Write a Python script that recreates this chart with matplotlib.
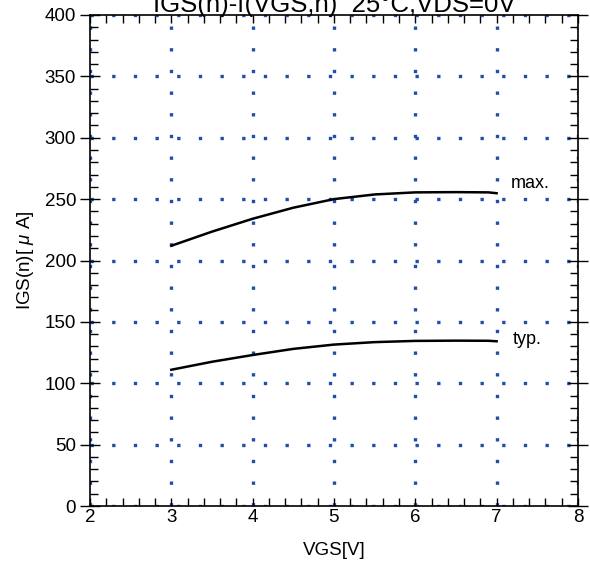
import matplotlib
matplotlib.use("Agg")
import matplotlib.pyplot as plt
from matplotlib.ticker import MultipleLocator

plt.rcParams['font.family'] = ['Liberation Sans', 'DejaVu Sans']
plt.rcParams['mathtext.fontset'] = 'custom'
plt.rcParams['mathtext.rm'] = 'Liberation Sans'
plt.rcParams['mathtext.it'] = 'Liberation Sans:italic'

vgs = [3.0, 3.5, 4.0, 4.5, 5.0, 5.5, 6.0, 6.5, 6.9, 7.0]
igs_max = [212, 223.5, 234, 243, 250, 253.8, 255.5, 255.7, 255.5, 254.8]
igs_typ = [111, 117.5, 123, 128, 131.5, 133.5, 134.5, 134.7, 134.6, 134.2]

title = "IGS(n)-f(VGS,n)  25°C,VDS=0V"
xlabel = "VGS[V]"
ylabel = r"IGS(n)[ $\mu$ A]"
xticks = [2, 3, 4, 5, 6, 7, 8]
yticks = [0, 50, 100, 150, 200, 250, 300, 350, 400]

fig = plt.figure(figsize=(5.9, 5.66), dpi=100)
ax = fig.add_axes([0.1525, 0.106, 0.827, 0.8675])

ax.plot(vgs, igs_max, color='black', lw=1.8)
ax.plot(vgs, igs_typ, color='black', lw=1.8)
ax.text(7.18, 263, "max.", fontsize=13, ha='left', va='center')
ax.text(7.2, 136, "typ.", fontsize=13, ha='left', va='center')

ax.set_xlim(2, 8)
ax.set_ylim(0, 400)
ax.set_xticks(xticks)
ax.set_yticks(yticks)
ax.xaxis.set_minor_locator(MultipleLocator(0.2))
ax.yaxis.set_minor_locator(MultipleLocator(10))
ax.tick_params(which='both', direction='in', top=True, right=True, labelsize=13.5, width=1)
ax.tick_params(which='major', axis='x', length=6, pad=2)
ax.tick_params(which='major', axis='y', direction='inout', length=14, pad=3)
ax.tick_params(which='minor', length=6)
ax.grid(True, which='major', color='#1f4fa8', linestyle=(0, (1, 5.5)), linewidth=2.4)
for s in ax.spines.values():
    s.set_linewidth(1.2)

ax.set_xlabel(xlabel, fontsize=13.5, labelpad=12)
ax.set_ylabel(ylabel, fontsize=13.5, labelpad=6)
ax.set_title(title, fontsize=18.5, y=0.99)

fig.savefig("out.png", dpi=100)
